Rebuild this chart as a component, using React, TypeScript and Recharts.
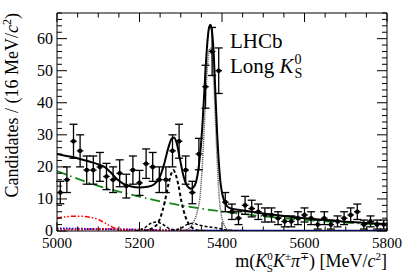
import React from 'react';
import { ComposedChart, Line, Scatter, XAxis, YAxis, ErrorBar } from 'recharts';

// data points: 16 MeV bins
const binCenters = [
  5008, 5024, 5040, 5056, 5072, 5088, 5104, 5120, 5136, 5152,
  5168, 5184, 5200, 5216, 5232, 5248, 5264, 5280, 5296, 5312,
  5328, 5344, 5360, 5376, 5392, 5408, 5424, 5440, 5456, 5472,
  5488, 5504, 5520, 5536, 5552, 5568, 5584, 5600, 5616, 5632,
  5648, 5664, 5680, 5696, 5712, 5728, 5744, 5760, 5776, 5792
];
const counts = [
  12, 16, 28, 25, 19, 19, 20, 17, 16, 18,
  14, 19, 15, 21, 20, 16, 16, 25, 28, 19,
  12, 24, 45, 56, 50, 9, 6, 4, 8, 7,
  6, 5, 5, 4, 3, 3, 4, 5, 4, 2,
  4, 2, 3, 4, 5, 6, 2, 3, 2, 2
];
const countErrors = [
  3.5, 4, 5.3, 5, 4.4, 4.4, 4.5, 4.1, 4, 4.2,
  3.7, 4.4, 3.9, 4.6, 4.5, 4, 4, 5, 5.3, 4.4,
  3.5, 4.9, 6.7, 7.5, 7.1, 3, 2.4, 2, 2.8, 2.6,
  2.4, 2.2, 2.2, 2, 1.7, 1.7, 2, 2.2, 2, 1.4,
  2, 1.4, 1.7, 2, 2.2, 2.4, 1.4, 1.7, 1.4, 1.4
];
const halfBin = 8;

// fit curves, [mass, value]
const totalFit = [
  [5000, 24], [5020, 23.5], [5040, 23], [5060, 22.3], [5080, 21.6], [5100, 20.8],
  [5115, 20], [5130, 18.3], [5145, 16.2], [5160, 14.8], [5180, 13.9], [5200, 13.6],
  [5220, 13.8], [5235, 14.5], [5248, 16.5], [5260, 21], [5270, 26], [5278, 28.8],
  [5284, 29.2], [5290, 27.5], [5298, 22.5], [5306, 17.5], [5315, 14.2], [5325, 13.2],
  [5333, 14], [5340, 17], [5347, 24], [5353, 34], [5359, 48], [5364, 58], [5368, 63],
  [5372, 64.3], [5376, 62], [5380, 55], [5384, 43], [5388, 31], [5392, 22], [5396, 15.5],
  [5400, 12], [5405, 9.5], [5412, 7.8], [5420, 7.1], [5440, 6.6], [5470, 6.0],
  [5500, 5.5], [5550, 4.7], [5600, 4.0], [5650, 3.4], [5700, 2.9], [5750, 2.5], [5800, 2.1]
];
const bsSignal = [
  [5300, 0], [5320, 0.8], [5330, 2.5], [5340, 6], [5347, 11], [5353, 22], [5359, 38],
  [5364, 50], [5369, 56.5], [5373, 57], [5377, 53], [5381, 44], [5385, 32], [5389, 20],
  [5393, 11], [5397, 6], [5402, 3], [5408, 1.2], [5415, 0.3], [5425, 0]
];
const bdSignal = [
  [5210, 0.1], [5222, 0.4], [5235, 1.2], [5245, 2.5], [5255, 6], [5262, 9.5], [5270, 14.5],
  [5276, 17.5], [5282, 19], [5288, 17.5], [5294, 14.5], [5302, 9], [5310, 5], [5318, 2.5],
  [5330, 0.8], [5345, 0.1], [5360, 0]
];
const crossFeed = [
  [5190, 0], [5210, 0.8], [5225, 2.2], [5240, 2.8], [5255, 2.2], [5270, 0.9], [5285, 0.4],
  [5300, 0.8], [5315, 2], [5330, 2.4], [5345, 1.8], [5365, 1.3], [5385, 1], [5400, 0.6],
  [5420, 0.2], [5440, 0]
];
const combinatorial = [
  [5000, 18.7], [5100, 14.1], [5200, 10.7], [5300, 8.0], [5400, 6.1],
  [5500, 4.6], [5600, 3.5], [5700, 2.6], [5800, 2.0]
];
const partReco = [
  [5000, 4.0], [5020, 4.4], [5040, 4.6], [5060, 4.6], [5080, 4.3], [5100, 3.6],
  [5115, 2.6], [5130, 1.5], [5145, 0.6], [5160, 0.15], [5180, 0]
];
const blueBkg = [
  [5000, 0.8], [5050, 0.7], [5100, 0.6], [5150, 0.5], [5200, 0.4], [5250, 0.25],
  [5300, 0.1], [5400, 0.05], [5800, 0]
];
const redBkg = [
  [5000, 0.5], [5060, 0.5], [5120, 0.6], [5180, 0.4], [5240, 0.3], [5300, 0.1], [5350, 0]
];
const floorBkg = [
  [5300, 0.15], [5500, 0.15], [5800, 0.15]
];

const xTicks = [5000, 5050, 5100, 5150, 5200, 5250, 5300, 5350, 5400, 5450, 5500, 5550, 5600, 5650, 5700, 5750, 5800];
const yTicks = [0, 2, 4, 6, 8, 10, 12, 14, 16, 18, 20, 22, 24, 26, 28, 30, 32, 34, 36, 38, 40, 42, 44, 46, 48, 50, 52, 54, 56, 58, 60, 62, 64, 66, 68];

const toPts = (arr: number[][]) => arr.map(([m, v]) => ({ m, v }));
const points = binCenters.map((m, i) => ({ m, v: counts[i], err: countErrors[i], xerr: halfBin }));

const FONT = '"Liberation Serif", "Times New Roman", serif';

const BottomTick = ({ x, y, payload }: any) => {
  const major = payload.value % 200 === 0;
  return (
    <g>
      <line x1={x} x2={x} y1={y} y2={y - (major ? 9 : 4.5)} stroke="#000" />
      {major && (
        <text x={x} y={y + 17} textAnchor="middle" fontFamily={FONT} fontSize={15} fill="#000">
          {payload.value}
        </text>
      )}
    </g>
  );
};
const TopTick = ({ x, y, payload }: any) => {
  const major = payload.value % 200 === 0;
  return <line x1={x} x2={x} y1={y} y2={y + (major ? 9 : 4.5)} stroke="#000" />;
};
const LeftTick = ({ x, y, payload }: any) => {
  const major = payload.value % 10 === 0;
  return (
    <g>
      <line x1={x} x2={x + (major ? 10 : 5)} y1={y} y2={y} stroke="#000" />
      {major && (
        <text x={x - 4} y={y + 5} textAnchor="end" fontFamily={FONT} fontSize={16} fill="#000">
          {payload.value}
        </text>
      )}
    </g>
  );
};
const RightTick = ({ x, y, payload }: any) => {
  const major = payload.value % 10 === 0;
  return <line x1={x} x2={x - (major ? 10 : 5)} y1={y} y2={y} stroke="#000" />;
};

const Marker = ({ cx, cy }: any) => <circle cx={cx} cy={cy} r={2.3} fill="#000" />;

export default function App() {
  return (
    <div style={{ position: 'absolute', left: 0, top: 0, width: 407, height: 276, background: '#fff' }}>
      <ComposedChart width={407} height={276} margin={{ top: 12, right: 19, bottom: 15, left: 17 }}>
        <XAxis xAxisId={0} dataKey="m" type="number" domain={[5000, 5800]} ticks={xTicks} interval={0}
          allowDataOverflow height={30} tickSize={0} tickMargin={0} tickLine={false} tick={<BottomTick />}
          axisLine={{ stroke: '#000' }} />
        <XAxis xAxisId="top" orientation="top" dataKey="m" type="number" domain={[5000, 5800]} ticks={xTicks}
          interval={0} allowDataOverflow height={1} tickSize={0} tickMargin={0} tickLine={false} tick={<TopTick />}
          axisLine={{ stroke: '#000' }} />
        <YAxis yAxisId={0} dataKey="v" type="number" domain={[0, 68]} ticks={yTicks} interval={0}
          allowDataOverflow width={40} tickSize={0} tickMargin={0} tickLine={false} tick={<LeftTick />}
          axisLine={{ stroke: '#000' }} />
        <YAxis yAxisId="right" orientation="right" dataKey="v" type="number" domain={[0, 68]} ticks={yTicks}
          interval={0} allowDataOverflow width={1} tickSize={0} tickMargin={0} tickLine={false} tick={<RightTick />}
          axisLine={{ stroke: '#000' }} />

        <Line data={toPts(floorBkg)} dataKey="v" type="monotone" dot={false} stroke="#1a1a80" strokeWidth={1.5} isAnimationActive={false} />
        <Line data={toPts(blueBkg)} dataKey="v" type="monotone" dot={false} stroke="#0000ff" strokeWidth={2} strokeDasharray="1.5 1.5" isAnimationActive={false} />
        <Line data={toPts(redBkg)} dataKey="v" type="monotone" dot={false} stroke="#ff0000" strokeWidth={2} strokeDasharray="1.5 2" isAnimationActive={false} />
        <Line data={toPts(partReco)} dataKey="v" type="monotone" dot={false} stroke="#ff0000" strokeWidth={1.5} strokeDasharray="5 2 1.5 2 1.5 2" isAnimationActive={false} />
        <Line data={toPts(combinatorial)} dataKey="v" type="monotone" dot={false} stroke="#17851a" strokeWidth={1.8} strokeDasharray="10 4 1.5 4" isAnimationActive={false} />
        <Line data={toPts(crossFeed)} dataKey="v" type="monotone" dot={false} stroke="#000" strokeWidth={1.5} strokeDasharray="3 2" isAnimationActive={false} />
        <Line data={toPts(bdSignal)} dataKey="v" type="monotone" dot={false} stroke="#000" strokeWidth={2} strokeDasharray="3.5 2.5" isAnimationActive={false} />
        <Line data={toPts(bsSignal)} dataKey="v" type="monotone" dot={false} stroke="#444" strokeWidth={1.5} strokeDasharray="1 1" isAnimationActive={false} />
        <Line data={toPts(totalFit)} dataKey="v" type="monotone" dot={false} stroke="#000" strokeWidth={2} isAnimationActive={false} />

        <Scatter data={points} dataKey="v" shape={<Marker />} isAnimationActive={false}>
          <ErrorBar dataKey="err" direction="y" width={4} stroke="#000" strokeWidth={1.3} />
          <ErrorBar dataKey="xerr" direction="x" width={0} stroke="#000" strokeWidth={1.3} />
        </Scatter>
      </ComposedChart>

      <svg width={407} height={276} style={{ position: 'absolute', left: 0, top: 0, pointerEvents: 'none' }}
        fontFamily={FONT} fill="#000">
        <text x={230} y={48} fontSize={21}>LHCb</text>
        <text x={230} y={73} fontSize={21}>
          Long <tspan fontStyle="italic">K</tspan>
          <tspan fontSize={14} dy={-9} dx={1}>0</tspan>
          <tspan fontSize={14} dy={14} dx={-7}>S</tspan>
        </text>
        <text x={387} y={267} fontSize={18} textAnchor="end">
          m(<tspan fontStyle="italic">K</tspan>
          <tspan fontSize={11} dy={-7}>0</tspan>
          <tspan fontSize={11} dy={12} dx={-6}>S</tspan>
          <tspan fontStyle="italic" dy={-5}>K</tspan>
          <tspan fontSize={11} dy={-7}>±</tspan>
          <tspan fontStyle="italic" dy={7}>π</tspan>
          <tspan fontSize={11} dy={-7}>∓</tspan>
          <tspan dy={7}>) [MeV/</tspan>
          <tspan fontStyle="italic">c</tspan>
          <tspan fontSize={11} dy={-7}>2</tspan>
          <tspan dy={7}>]</tspan>
        </text>
        <text transform="translate(18,13) rotate(-90)" fontSize={18} textAnchor="end">
          Candidates / (16 MeV/<tspan fontStyle="italic">c</tspan>
          <tspan fontSize={12} dy={-7}>2</tspan>
          <tspan dy={7}>)</tspan>
        </text>
      </svg>
    </div>
  );
}
